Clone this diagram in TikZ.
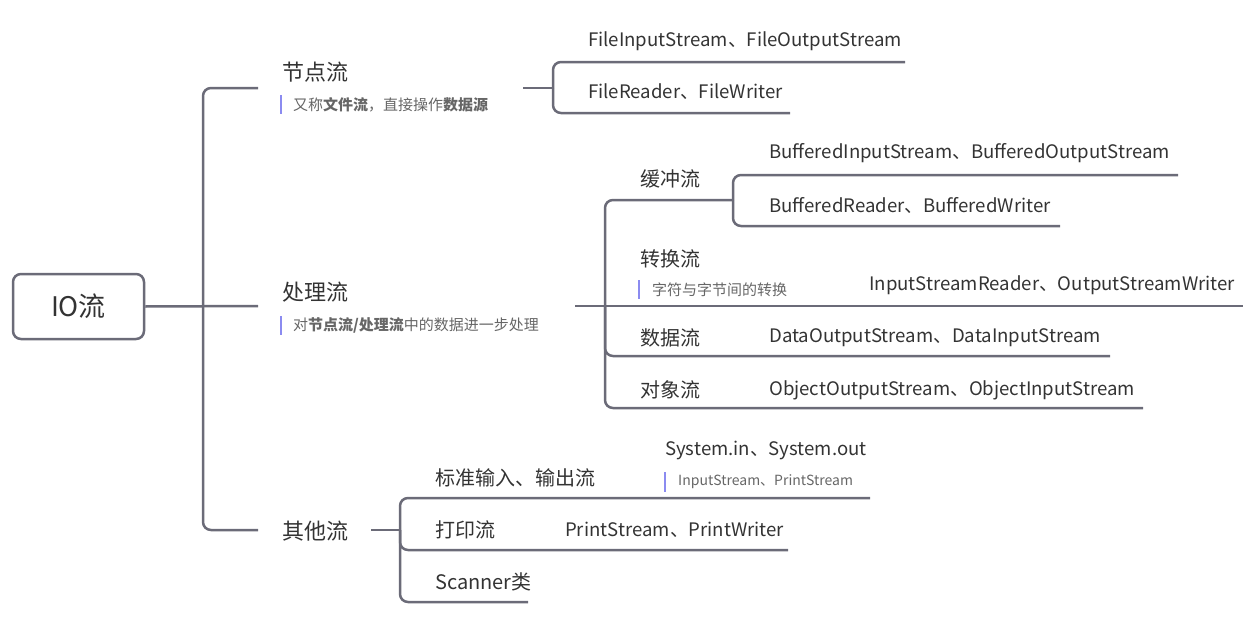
\documentclass[tikz,border=0pt]{standalone}
\usepackage{fontspec}
\setmainfont{Noto Sans CJK SC}
\definecolor{linegray}{HTML}{6B6B78}
\definecolor{textgray}{HTML}{333333}
\definecolor{notegray}{HTML}{666666}
\definecolor{barpurple}{HTML}{8B8BF0}

\begin{document}
\begin{tikzpicture}[x=1pt,y=-1pt,
    line/.style={draw=linegray, line width=2.5pt, rounded corners=8pt},
    topic/.style={anchor=west, inner sep=0pt, text=textgray, font=\fontsize{22}{22}\selectfont},
    sub/.style={anchor=west, inner sep=0pt, text=textgray, font=\fontsize{20}{20}\selectfont},
    leaf/.style={anchor=west, inner sep=0pt, text=textgray, font=\fontsize{18.6}{18.6}\selectfont},
    note/.style={anchor=west, inner sep=0pt, text=notegray, font=\fontsize{15}{15}\selectfont},
    bar/.style={draw=barpurple, line width=2.5pt}]
                \useasboundingbox (0,0) rectangle (1247,621);
                % root
                \node[draw=linegray, line width=2.5pt, rounded corners=8pt, minimum width=131pt, minimum height=65pt,
                      text=textgray, font=\fontsize{27}{27}\selectfont] (io) at (78.5,306.5) {IO流};
                % first level
                \node[topic] (jd) at (282,72) {节点流};
                \node[note] (jdn) at (293,105) {又称\textbf{文件流}，直接操作\textbf{数据源}};
                \node[topic] (cl) at (282,292) {处理流};
                \node[note] (cln) at (293,325) {对\textbf{节点流/处理流}中的数据进一步处理};
                \node[topic] (qt) at (282,531) {其他流};
                \draw[bar] (281,95) -- (281,114);
                \draw[bar] (281,316) -- (281,335);
                \coordinate (j0) at (203,306);
                \coordinate (a1) at (258,88);
                \coordinate (a2) at (258,306);
                \coordinate (a3) at (258,530);
                \draw[line] (io.east) -- (a2);
                \draw[line] (j0) |- (a1);
                \draw[line] (j0) |- (a3);
                % 节点流
                \node[leaf] (fis) at (588,41) {FileInputStream、FileOutputStream};
                \node[leaf] (frd) at (588,92) {FileReader、FileWriter};
                \coordinate (b1) at (523,88);
                \coordinate (j1) at (553,88);
                \coordinate (e11) at (905,62);
                \coordinate (e12) at (790,113);
                \draw[line] (b1) -- (j1);
                \draw[line] (j1) |- (e11);
                \draw[line] (j1) |- (e12);
                % 处理流
                \node[sub] (hc) at (640,179) {缓冲流};
                \node[sub] (zh) at (640,259) {转换流};
                \node[note] (zhn) at (652,290) {字符与字节间的转换};
                \draw[bar] (639,280) -- (639,299);
                \node[sub] (sj) at (640,338) {数据流};
                \node[sub] (dx) at (640,390) {对象流};
                \node[leaf] (bis) at (769,153) {BufferedInputStream、BufferedOutputStream};
                \node[leaf] (brd) at (769,205) {BufferedReader、BufferedWriter};
                \node[leaf] (isr) at (869,285) {InputStreamReader、OutputStreamWriter};
                \node[leaf] (dos) at (769,338) {DataOutputStream、DataInputStream};
                \node[leaf] (oos) at (769,390) {ObjectOutputStream、ObjectInputStream};
                \coordinate (b2) at (575,306);
                \coordinate (j2) at (605,306);
                \coordinate (j4) at (733,200);
                \coordinate (e22) at (1243,306);
                \coordinate (e23) at (1110,356);
                \coordinate (e24) at (1143,408);
                \coordinate (e41) at (1178,175);
                \coordinate (e42) at (1060,226);
                \draw[line] (b2) -- (j2) -- (e22);
                \draw[line] (j2) |- (j4);
                \draw[line] (j2) |- (e23);
                \draw[line] (j2) |- (e24);
                \draw[line] (j4) |- (e41);
                \draw[line] (j4) |- (e42);
                % 其他流
                \node[sub] (bz) at (435,478) {标准输入、输出流};
                \node[sub] (dy) at (435,530) {打印流};
                \node[sub] (sc) at (435,582) {Scanner类};
                \node[leaf] (sys) at (665,450) {System.in、System.out};
                \node[note, font=\fontsize{14}{14}\selectfont] (sysn) at (678,482) {InputStream、PrintStream};
                \draw[bar] (665,472) -- (665,492);
                \node[leaf] (ps) at (565,530) {PrintStream、PrintWriter};
                \coordinate (b3) at (371,530);
                \coordinate (j3) at (400,530);
                \coordinate (e31) at (870,498);
                \coordinate (e32) at (788,550);
                \coordinate (e33) at (528,602);
                \draw[line] (b3) -- (j3);
                \draw[line] (j3) |- (e31);
                \draw[line] (j3) |- (e32);
                \draw[line] (j3) |- (e33);
            \end{tikzpicture}
\end{document}
